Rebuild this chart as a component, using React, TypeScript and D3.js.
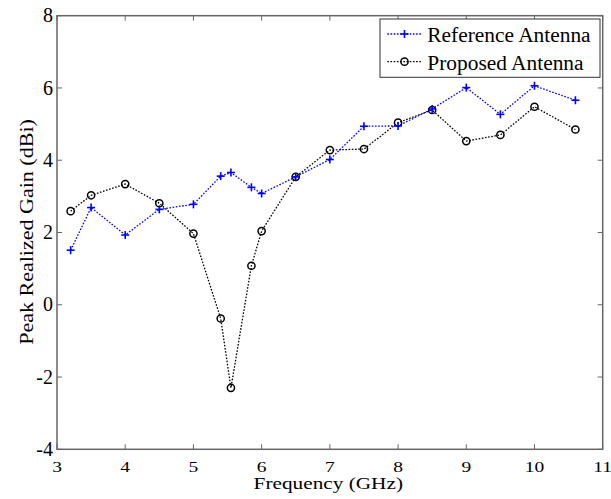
import React from "react";
import * as d3 from "d3";

const freqs = [3.2, 3.5, 4, 4.5, 5, 5.4, 5.55, 5.85, 6, 6.5, 7, 7.5, 8, 8.5, 9, 9.5, 10, 10.6];
const referenceGain = [1.51, 2.69, 1.93, 2.64, 2.78, 3.56, 3.66, 3.25, 3.08, 3.54, 4.02, 4.94, 4.95, 5.42, 6.01, 5.27, 6.06, 5.66];
const proposedGain = [2.59, 3.03, 3.34, 2.81, 1.97, -0.38, -2.30, 1.08, 2.04, 3.54, 4.28, 4.31, 5.04, 5.39, 4.53, 4.70, 5.48, 4.85];
const xTicks = [3, 4, 5, 6, 7, 8, 9, 10, 11];
const yTicks = [-4, -2, 0, 2, 4, 6, 8];
const seriesNames = ["Reference Antenna", "Proposed Antenna"];

const W = 611;
const H = 499;
const L = 57, R = 602.7, T = 15.7, B = 449.3;
const FONT = "'Liberation Serif', 'Times New Roman', serif";

export default function App() {
  const x = d3.scaleLinear().domain([3, 11]).range([L, R]);
  const y = d3.scaleLinear().domain([-4, 8]).range([B, T]);
  const line = d3.line<number>().x((_, i) => x(freqs[i])).y((d) => y(d));
  const axisColor = "#666";
  const dash = "1.6 1.6";

  const plus = (cx: number, cy: number, key: string | number) => (
    <g key={key} stroke="#0000ff" strokeWidth={1.6}>
      <line x1={cx - 4} x2={cx + 4} y1={cy} y2={cy} />
      <line x1={cx} x2={cx} y1={cy - 4} y2={cy + 4} />
    </g>
  );
  const circ = (cx: number, cy: number, key: string | number) => (
    <circle key={key} cx={cx} cy={cy} r={3.6} fill="none" stroke="#000" strokeWidth={1.5} />
  );

  return (
    <svg width={W} height={H} style={{ position: "absolute", left: 0, top: 0, background: "#fff" }} fontFamily={FONT}>
      <rect x={0} y={0} width={W} height={H} fill="#fff" />
      {/* ticks */}
      {xTicks.map((t) => (
        <g key={"xt" + t} stroke={axisColor} strokeWidth={1}>
          <line x1={x(t)} x2={x(t)} y1={B} y2={B - 5} />
          <line x1={x(t)} x2={x(t)} y1={T} y2={T + 5} />
        </g>
      ))}
      {yTicks.map((t) => (
        <g key={"yt" + t} stroke={axisColor} strokeWidth={1}>
          <line x1={L} x2={L + 5} y1={y(t)} y2={y(t)} />
          <line x1={R} x2={R - 5} y1={y(t)} y2={y(t)} />
        </g>
      ))}
      <rect x={L} y={T} width={R - L} height={B - T} fill="none" stroke={axisColor} strokeWidth={1.5} />
      {/* tick labels */}
      {xTicks.map((t) => (
        <text key={"xl" + t} transform={`translate(${x(t)},471.5) scale(1.3,1)`} textAnchor="middle" fontSize={15} fill="#000">
          {t}
        </text>
      ))}
      {yTicks.map((t) => (
        <text key={"yl" + t} x={53} y={y(t) + 6.7} textAnchor="end" fontSize={20} fill="#000">
          {t}
        </text>
      ))}
      {/* axis titles */}
      <text transform={`translate(328.3,489) scale(1.33,1)`} textAnchor="middle" fontSize={16} fill="#000">
        Frequency (GHz)
      </text>
      <text transform={`translate(33,232) rotate(-90) scale(1.16,1)`} textAnchor="middle" fontSize={19} fill="#000">
        Peak Realized Gain (dBi)
      </text>
      {/* series */}
      <path d={line(proposedGain) || ""} fill="none" stroke="#000" strokeWidth={1.3} strokeDasharray={dash} />
      <path d={line(referenceGain) || ""} fill="none" stroke="#0000ff" strokeWidth={1.3} strokeDasharray={dash} />
      {proposedGain.map((v, i) => circ(x(freqs[i]), y(v), "c" + i))}
      {referenceGain.map((v, i) => plus(x(freqs[i]), y(v), "p" + i))}
      {/* legend */}
      <rect x={380} y={19} width={220} height={58.3} fill="#fff" stroke="#333" strokeWidth={1} />
      <line x1={387.3} x2={421.7} y1={34} y2={34} stroke="#0000ff" strokeWidth={1.3} strokeDasharray={dash} />
      {plus(404.5, 34, "lp")}
      <text transform="translate(427.3,41.7) scale(1.07,1)" fontSize={20} fill="#000">{seriesNames[0]}</text>
      <line x1={387.3} x2={421.7} y1={61.7} y2={61.7} stroke="#000" strokeWidth={1.3} strokeDasharray={dash} />
      {circ(404.5, 61.7, "lc")}
      <text transform="translate(427.3,70) scale(1.07,1)" fontSize={20} fill="#000">{seriesNames[1]}</text>
    </svg>
  );
}
